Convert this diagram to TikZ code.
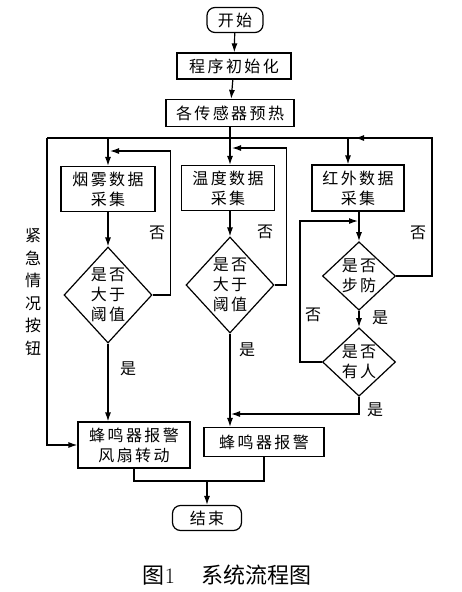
\documentclass[tikz,border=0pt]{standalone}
\usepackage{fontspec}
\newfontfamily\cjk[LetterSpace=15]{Noto Sans CJK SC}
\newfontfamily\cjkcap{Noto Sans CJK SC}
\usetikzlibrary{shapes.geometric}
\usetikzlibrary{arrows.meta}

\begin{document}
\begin{tikzpicture}[x=1pt, y=-1pt, line width=1.2pt, >={Latex[length=9pt,width=6pt]},
	every node/.style={font=\cjk\fontsize{16}{20}\selectfont, align=center},
	blk/.style={draw,rectangle,inner sep=0pt},
	term/.style={draw,rounded corners=8pt,inner sep=0pt},
	dmd/.style={draw,diamond,inner sep=0pt}]
\useasboundingbox (0,0) rectangle (462,592);
\node[term,minimum width=56pt,minimum height=25pt] (0) at (235,20) {开始};
\node[blk,minimum width=114pt,minimum height=26pt] (1) at (234,66) {程序初始化};
\node[blk,minimum width=128pt,minimum height=27pt] (2) at (230,113) {各传感器预热};
\node[blk,minimum width=94pt,minimum height=45pt] (3) at (108,189) {烟雾数据\\采集};
\node[blk,minimum width=93pt,minimum height=45pt] (4) at (228,188) {温度数据\\采集};
\node[blk,minimum width=92pt,minimum height=46pt] (5) at (358,188) {红外数据\\采集};
\node[dmd,aspect=0.9,minimum width=88pt,minimum height=96pt] (6) at (108,295) {是否\\大于\\阈值};
\node[dmd,aspect=0.9,minimum width=88pt,minimum height=96pt] (7) at (230,285) {是否\\大于\\阈值};
\node[dmd,minimum width=73pt,minimum height=68pt] (8) at (359,276) {是否\\步防};
\node[dmd,minimum width=73pt,minimum height=68pt] (9) at (359,362) {是否\\有人};
\node[blk,minimum width=112pt,minimum height=46pt] (10) at (134,445) {蜂鸣器报警\\风扇转动};
\node[blk,minimum width=120pt,minimum height=29pt] (11) at (264,442) {蜂鸣器报警};
\node[term,minimum width=69pt,minimum height=25pt] (12) at (207,518) {结束};
\node[font=\cjkcap\fontsize{22}{24}\selectfont] (13) at (227,575) {图{\rmfamily 1}\hspace{1.2em}系统流程图};
\node[text width=1em,font=\cjk\fontsize{16}{22.5}\selectfont] (14) at (30,292) {紧\\急\\情\\况\\按\\钮};
% labels
\node (15) at (157,233) {否};
\node (16) at (265,232) {否};
\node (17) at (418,233) {否};
\node (18) at (313,315) {否};
\node (19) at (128,369) {是};
\node (20) at (247,350) {是};
\node (21) at (380,318) {是};
\node (22) at (375,410) {是};
% main line
\coordinate (a) at (47,138);
\coordinate (b) at (432,138);
\coordinate (c) at (348,138);
\draw (a) -- (b);
\draw[->] (0) -- (1);
\draw[->] (1) -- (2);
\draw (2.south) -- (2.south |- a);
\draw[->] (2.south |- a) -- (2.south |- 4.north);
\draw[->] (3.north |- a) -- (3.north);
\draw[->] (c) -- (c |- 5.north);
\draw[->] (a) |- (10.west);
% columns
\draw[->] (3) -- (6);
\draw[->] (2.south |- 4.south) -- (7.north);
\draw[->] (8.north |- 5.south) -- (8.north);
\draw[->] (8) -- (9);
\draw[->] (6.south) -- (6.south |- 10.north);
\draw[->] (7.south) -- (7.south |- 11.north);
% loops
\coordinate (r1) at (110,151);
\coordinate (r2) at (232,148);
\coordinate (r3) at (355,138);
\coordinate (r4) at (358,221);
\coordinate (r5) at (231,414);
\draw[->] (6.east) -- ++(18,0) |- (r1);
\draw[->] (7.east) -- ++(12,0) |- (r2);
\draw[->] (8.east) -| (b) -- (r3);
\draw[->] (9.west) -- ++(-22,0) |- (r4);
\draw[->] (9.south) |- (r5);
% end
\coordinate (j) at (207,481);
\draw (10.south) |- (j) -| (11.south);
\draw[->] (j) -- (12.north);
\end{tikzpicture}
\end{document}
